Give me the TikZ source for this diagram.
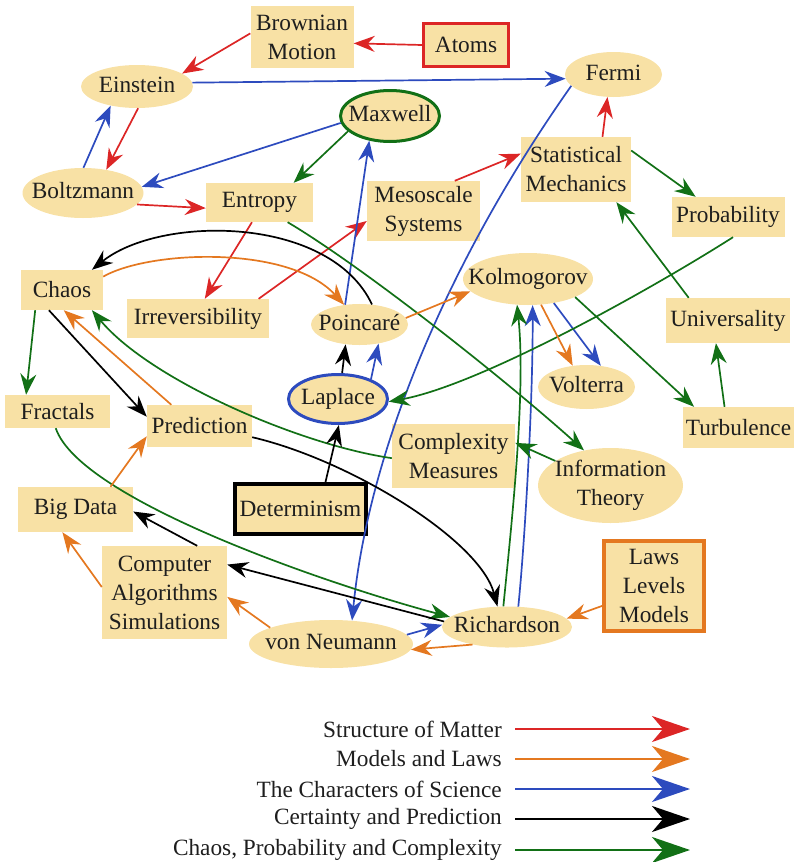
\documentclass[tikz,border=0pt]{standalone}
\usepackage{fontspec}
\setmainfont{Liberation Serif}
\usetikzlibrary{arrows.meta,shapes.geometric}
\definecolor{nfill}{RGB}{248,225,165}
\definecolor{cred}{RGB}{220,38,38}
\definecolor{corange}{RGB}{228,120,32}
\definecolor{cblue}{RGB}{45,75,190}
\definecolor{cgreen}{RGB}{18,112,22}
\definecolor{ctext}{RGB}{30,30,30}
\newcommand\ovtext[1]{\makebox[0pt]{\begin{tabular}{@{}c@{}}#1\end{tabular}}}
\begin{document}
\begin{tikzpicture}[x=1pt,y=-1pt,
  every node/.style={text=ctext,font=\fontsize{23.3}{29}\selectfont},
  box/.style={rectangle,fill=nfill,inner sep=0pt,align=center},
  oval/.style={ellipse,fill=nfill,inner sep=0pt},
  ar/.style={line width=1.7pt,-{Stealth[length=21pt,width=16pt,inset=7pt]}},
  lg/.style={line width=2.4pt,-{Stealth[length=38pt,width=26pt,inset=11pt]}}]
\useasboundingbox (0,0) rectangle (794,862);
% nodes
\node[box,minimum width=103pt,minimum height=62pt] (BM) at (302,37) {Brownian\\Motion};
\node[box,draw=cred,line width=3pt,minimum width=85pt,minimum height=43pt] (AT) at (466,45) {Atoms};
\node[oval,minimum width=112pt,minimum height=43pt] (EI) at (137,86.5) {\ovtext{Einstein}};
\node[oval,minimum width=97pt,minimum height=45pt] (FE) at (613.5,74.5) {\ovtext{Fermi}};
\node[oval,draw=cgreen,line width=3pt,minimum width=99pt,minimum height=51pt] (MX) at (390,116) {\ovtext{Maxwell}};
\node[oval,minimum width=121pt,minimum height=50pt] (BO) at (83,193) {\ovtext{Boltzmann}};
\node[box,minimum width=107pt,minimum height=39pt] (EN) at (259.5,202.5) {Entropy};
\node[box,minimum width=113pt,minimum height=60pt] (MS) at (423.5,211) {Mesoscale\\Systems};
\node[box,minimum width=110pt,minimum height=65pt] (SM) at (576,169.5) {Statistical\\Mechanics};
\node[box,minimum width=113pt,minimum height=40pt] (PR) at (728,217) {Probability};
\node[box,minimum width=82pt,minimum height=40pt] (CH) at (62,290) {Chaos};
\node[box,minimum width=142pt,minimum height=39pt] (IR) at (198,318.5) {Irreversibility};
\node[oval,minimum width=97pt,minimum height=41pt] (PO) at (359.5,324.5) {\ovtext{Poincaré}};
\node[oval,minimum width=130pt,minimum height=52pt] (KO) at (528,279) {\ovtext{Kolmogorov}};
\node[box,minimum width=124pt,minimum height=45pt] (UN) at (728,320.5) {Universality};
\node[oval,minimum width=97pt,minimum height=44pt] (VO) at (586.5,387) {\ovtext{Volterra}};
\node[oval,draw=cblue,line width=3pt,minimum width=99pt,minimum height=49pt] (LA) at (338,399) {\ovtext{Laplace}};
\node[box,minimum width=105pt,minimum height=33pt] (FR) at (57.5,411.5) {Fractals};
\node[box,minimum width=105pt,minimum height=42pt] (PD) at (199.5,426) {Prediction};
\node[box,minimum width=123pt,minimum height=64pt] (CM) at (453.5,456) {Complexity\\Measures};
\node[box,minimum width=111pt,minimum height=41pt] (TU) at (738.5,427.5) {Turbulence};
\node[oval,inner ysep=-6pt,minimum width=145pt,minimum height=75pt] (IT) at (610.5,485.5) {\ovtext{Information\\Theory}};
\node[box,draw=black,line width=3.5pt,minimum width=131pt,minimum height=50pt] (DE) at (300.5,509) {Determinism};
\node[box,minimum width=115pt,minimum height=45pt] (BD) at (75.5,509.5) {Big Data};
\node[box,minimum width=125pt,minimum height=93pt] (CAS) at (164.5,592.5) {Computer\\Algorithms\\Simulations};
\node[box,draw=corange,line width=3.5pt,minimum width=100pt,minimum height=90pt] (LLM) at (654,586) {Laws\\Levels\\Models};
\node[oval,minimum width=130pt,minimum height=40pt] (RI) at (507,627) {\ovtext{Richardson}};
\node[oval,minimum width=164pt,minimum height=48pt] (VN) at (331,644) {\ovtext{von Neumann}};
% red
\draw[ar,cred] (AT.180) -- (BM.-7);
\draw[ar,cred] (BM.176) -- (EI.16);
\draw[ar,cred] (EI.-87) -- (BO.45);
\draw[ar,cred] (BO.-12) -- (EN.186);
\draw[ar,cred] (EN.-111) -- (IR.71);
\draw[ar,cred] (IR.18) -- (MS.190);
\draw[ar,cred] (MS.44) -- (SM.164);
\draw[ar,cred] (SM.51) -- (FE.-105);
% blue
\draw[ar,cblue] (BO.89) -- (EI.-144);
\draw[ar,cblue] (EI.4) -- (FE.185);
\draw[ar,cblue] (MX.188) -- (BO.6);
\draw[ar,cblue] (PO.126) -- (MX.-130);
\draw[ar,cblue] (LA.31) -- (PO.-45);
\draw[ar,cblue] (FE.195) .. controls (445,265) and (368,455) .. (VN.48);
\draw[ar,cblue] (RI.61) .. controls (525,540) and (533,400) .. (KO.-80);
\draw[ar,cblue] (VN.7) -- (RI.178);
\draw[ar,cblue] (KO.-43) -- (VO.56);
% green
\draw[ar,cgreen] (MX.200) -- (EN.30);
\draw[ar,cgreen] (SM.19) -- (PR.148);
\draw[ar,cgreen] (UN.150) -- (SM.-39);
\draw[ar,cgreen] (TU.124) -- (UN.-118);
\draw[ar,cgreen] (KO.-21) -- (TU.155);
\draw[ar,cgreen] (PR.-76) .. controls (650,290) and (480,385) .. (LA.-3);
\draw[ar,cgreen] (EN.-35) .. controls (360,265) and (500,375) .. (IT.127);
\draw[ar,cgreen] (IT.156) -- (CM.12);
\draw[ar,cgreen] (CM.182) .. controls (300,445) and (150,380) .. (CH.-34);
\draw[ar,cgreen] (FR.-96) .. controls (80,500) and (330,585) .. (RI.170);
\draw[ar,cgreen] (CH.-143) -- (FR.152);
\draw[ar,cgreen] (RI.100) .. controls (512,520) and (526,390) .. (KO.-113);
% black
\draw[ar,black] (PO.58) .. controls (330,215) and (160,215) .. (CH.34);
\draw[ar,black] (CH.-123) -- (PD.170);
\draw[ar,black] (LA.81) -- (PO.-125);
\draw[ar,black] (DE.47) -- (LA.-88);
\draw[ar,black] (PD.-12) .. controls (350,460) and (480,540) .. (RI.115);
\draw[ar,black] (RI.175) -- (CAS.24);
\draw[ar,black] (CAS.55) -- (BD.-2);
% orange
\draw[ar,corange] (CH.18) .. controls (150,250) and (290,245) .. (PO.128);
\draw[ar,corange] (PD.143) -- (CH.-85);
\draw[ar,corange] (BD.33) -- (PD.191);
\draw[ar,corange] (CAS.175) -- (BD.-120);
\draw[ar,corange] (PO.8) -- (KO.192);
\draw[ar,corange] (KO.-63) -- (VO.123);
\draw[ar,corange] (LLM.201) -- (RI.8);
\draw[ar,corange] (RI.207) -- (VN.-4);
\draw[ar,corange] (VN.165) -- (CAS.-4);
% legend
\node[anchor=east,inner sep=0pt] (L1) at (502,729) {Structure of Matter};
\node[anchor=east,inner sep=0pt] (L2) at (502,759) {Models and Laws};
\node[anchor=east,inner sep=0pt] (L3) at (502,789) {The Characters of Science};
\node[anchor=east,inner sep=0pt] (L4) at (502,819) {Certainty and Prediction};
\node[anchor=east,inner sep=0pt] (L5) at (502,850) {Chaos, Probability and Complexity};
\coordinate (L1a) at (515,729); \coordinate (L1b) at (690,729);
\coordinate (L2a) at (515,759); \coordinate (L2b) at (690,759);
\coordinate (L3a) at (515,789); \coordinate (L3b) at (690,789);
\coordinate (L4a) at (515,819); \coordinate (L4b) at (690,819);
\coordinate (L5a) at (515,850); \coordinate (L5b) at (690,850);
\draw[lg,cred] (L1a) -- (L1b);
\draw[lg,corange] (L2a) -- (L2b);
\draw[lg,cblue] (L3a) -- (L3b);
\draw[lg,black] (L4a) -- (L4b);
\draw[lg,cgreen] (L5a) -- (L5b);
\end{tikzpicture}
\end{document}
